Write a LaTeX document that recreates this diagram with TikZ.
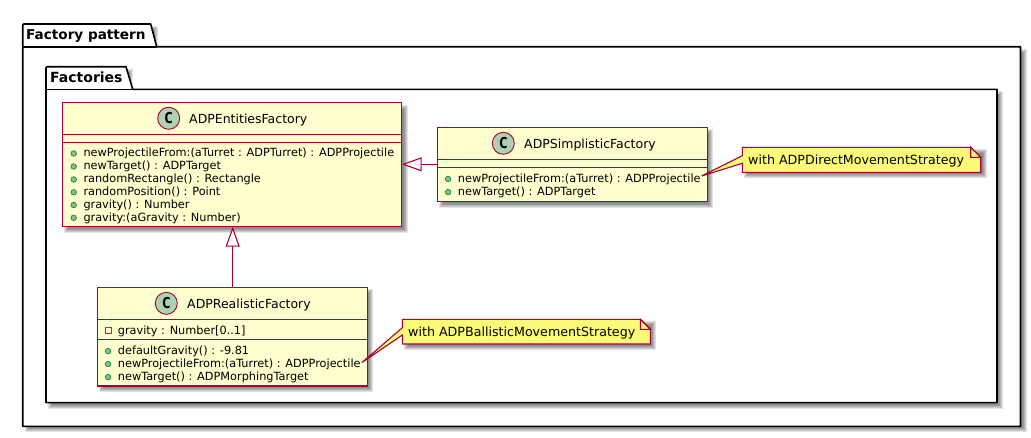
\documentclass[tikz,border=0pt]{standalone}
\usepackage{fontspec}
\usepackage{graphicx}
\setmainfont{DejaVu Sans}
\newfontfamily\monob{DejaVu Sans Mono}[Scale=1]
\usetikzlibrary{arrows.meta,calc}
\definecolor{umlline}{HTML}{A80036}
\definecolor{umlfill}{HTML}{FEFECE}
\definecolor{notefill}{HTML}{FBFB77}
\definecolor{spot}{HTML}{ADD1B2}
\definecolor{pubfill}{HTML}{84BE84}
\definecolor{publine}{HTML}{038048}
\definecolor{privline}{HTML}{C82930}
\tikzset{
  pkg/.style={draw=black,line width=1.6pt,fill=white,line join=round},
  pkgtitle/.style={anchor=base west,inner sep=0pt,font=\fontsize{14}{14}\selectfont\bfseries},
  classbox/.style={draw=umlline,line width=1.5pt,fill=umlfill,anchor=north west,inner sep=0pt,outer sep=0pt},
  sep/.style={draw=umlline,line width=1.3pt},
  spotc/.style={circle,draw=umlline,line width=.9pt,fill=spot,minimum size=22pt,inner sep=0pt,font=\fontsize{15}{15}\selectfont\monob\bfseries},
  classname/.style={anchor=base west,inner sep=0pt,font=\fontsize{12.5}{13}\selectfont},
  member/.style={anchor=base west,inner sep=0pt,font=\fontsize{11.3}{12}\selectfont},
  pubdot/.style={circle,draw=publine,line width=.6pt,fill=pubfill,minimum size=5.6pt,inner sep=0pt},
  privsq/.style={rectangle,draw=privline,line width=.9pt,minimum size=5.6pt,inner sep=0pt},
  noteanchor/.style={rectangle,anchor=north west,inner sep=0pt,outer sep=0pt},
  notetxt/.style={anchor=base west,inner sep=0pt,font=\fontsize{12.65}{13}\selectfont},
  noteline/.style={draw=umlline,line width=1.1pt,fill=notefill,line join=miter},
  inherit/.style={draw=umlline,line width=1.1pt,{Triangle[open,length=20pt,width=14pt,fill=white,line width=1.1pt]}-},
}
\newcommand{\softshadow}[4]{%
  \foreach \d in {-2,-1,0,1,2}{%
    \fill[black,opacity=.11] (#1+4-\d,#2+4-\d) rectangle (#3+4+\d,#4+4+\d);}}
\newcommand{\mrow}[4]{% name, x, baseline y, text
  \node[pubdot] (#1d) at (#2-9.6,#3-3.2) {};
  \node[member] (#1) at (#2,#3) {#4};}
\newcommand{\notebody}[3]{% note name, upper y offset, lower y offset, tip = #1tip
  \path[noteline] (#1.north west) -- ([yshift=-#2pt]#1.north west) -- (#1tip) -- ([yshift=-#3pt]#1.north west)
     -- (#1.south west) -- (#1.south east) -- ([yshift=-10pt]#1.north east) -- ([xshift=-10pt]#1.north east) -- cycle;
  \path[noteline] ([xshift=-10pt]#1.north east) -- ([xshift=-10pt,yshift=-10pt]#1.north east) -- ([yshift=-10pt]#1.north east) -- cycle;}
\begin{document}
\begin{tikzpicture}[x=1pt,y=-1pt]
\useasboundingbox (0,0) rectangle (1031,437);
\fill[white] (0,0) rectangle (1031,437);
% packages
\softshadow{23}{47}{1020.5}{426.3}
\softshadow{23}{24}{152}{47}
\path[pkg] (22.7,46.7) -- (22.7,25) -- (23.7,24) -- (150.7,24) -- (156.7,46.7) -- (1020.5,46.7) -- (1020.5,426.3) -- (22.7,426.3) -- cycle;
\draw[pkg,fill=none] (22.7,46.7) -- (156.7,46.7);
\node[pkgtitle,font=\fontsize{13.6}{14}\selectfont\bfseries] (outertitle) at (26,39.5) {Factory pattern};
\softshadow{46}{89.3}{997}{402.6}
\softshadow{46}{67}{127}{89}
\path[pkg] (46,89.3) -- (46,67.7) -- (47,66.7) -- (126,66.7) -- (132.7,89.3) -- (997,89.3) -- (997,402.6) -- (46,402.6) -- cycle;
\draw[pkg,fill=none] (46,89.3) -- (132.7,89.3);
\node[pkgtitle] (innertitle) at (50,82.2) {Factories};
% class shadows
\softshadow{62.3}{102.7}{401.7}{226.7}
\softshadow{437.3}{127.3}{707.3}{201.7}
\softshadow{97.3}{287.3}{367.3}{386}
\softshadow{402.3}{319.3}{650.3}{344}
\softshadow{742.3}{147.3}{980.7}{172.3}
% classes
\node[classbox,minimum width=339.4pt,minimum height=124pt] (ef) at (62.3,102.7) {};
\draw[sep] (62.3,134.3) -- (401.7,134.3) (62.3,142.3) -- (401.7,142.3);
\node[spotc] (efc) at (168.7,118.3) {C};
\node[classname] (efn) at (189,123.3) {ADPEntitiesFactory};
\mrow{ef1}{83.3}{156.7}{newProjectileFrom:(aTurret : ADPTurret) : ADPProjectile}
\mrow{ef2}{83.3}{169.7}{newTarget() : ADPTarget}
\mrow{ef3}{83.3}{182.7}{randomRectangle() : Rectangle}
\mrow{ef4}{83.3}{195.5}{randomPosition() : Point}
\mrow{ef5}{83.3}{208.2}{gravity() : Number}
\mrow{ef6}{83.3}{221}{gravity:(aGravity : Number)}

\node[classbox,minimum width=270pt,minimum height=74.4pt] (sf) at (437.3,127.3) {};
\draw[sep] (437.3,159.3) -- (707.3,159.3) (437.3,167.3) -- (707.3,167.3);
\node[spotc] (sfc) at (503.3,143.3) {C};
\node[classname] (sfn) at (524,148.3) {ADPSimplisticFactory};
\mrow{sf1}{457.7}{182.3}{newProjectileFrom:(aTurret) : ADPProjectile}
\mrow{sf2}{457.7}{195.3}{newTarget() : ADPTarget}

\node[classbox,minimum width=270pt,minimum height=98.7pt] (rf) at (97.3,287.3) {};
\draw[sep] (97.3,319.3) -- (367.3,319.3) (97.3,339.3) -- (367.3,339.3);
\node[spotc] (rfc) at (166.3,303.3) {C};
\node[classname] (rfn) at (187,308.3) {ADPRealisticFactory};
\node[privsq] (rfad) at (108.3,330.7) {};
\node[member] (rfa) at (117.7,334) {gravity : Number[0..1]};
\mrow{rf1}{117.7}{354.3}{defaultGravity() : -9.81}
\mrow{rf2}{117.7}{367.3}{newProjectileFrom:(aTurret) : ADPProjectile}
\mrow{rf3}{117.7}{380.3}{newTarget() : ADPMorphingTarget}
% inheritance
\coordinate (hsf) at (437.3,164.3);
\coordinate (vrf) at (232.7,287.3);
\draw[inherit] (ef.east |- hsf) -- (hsf);
\draw[inherit] (ef.south -| vrf) -- (vrf);
% notes
\node[noteanchor,minimum width=238.4pt,minimum height=25pt] (na) at (742.3,147.3) {};
\coordinate (natip) at (701.7,176);
\notebody{na}{8.4}{16}
\node[notetxt] (nat) at (748,164) {with ADPDirectMovementStrategy};
\node[noteanchor,minimum width=248pt,minimum height=24.7pt] (nb) at (402.3,319.3) {};
\coordinate (nbtip) at (361.7,362.7);
\notebody{nb}{8.4}{15.7}
\node[notetxt] (nbt) at (408,336) {with ADPBallisticMovementStrategy};
\end{tikzpicture}
\end{document}
